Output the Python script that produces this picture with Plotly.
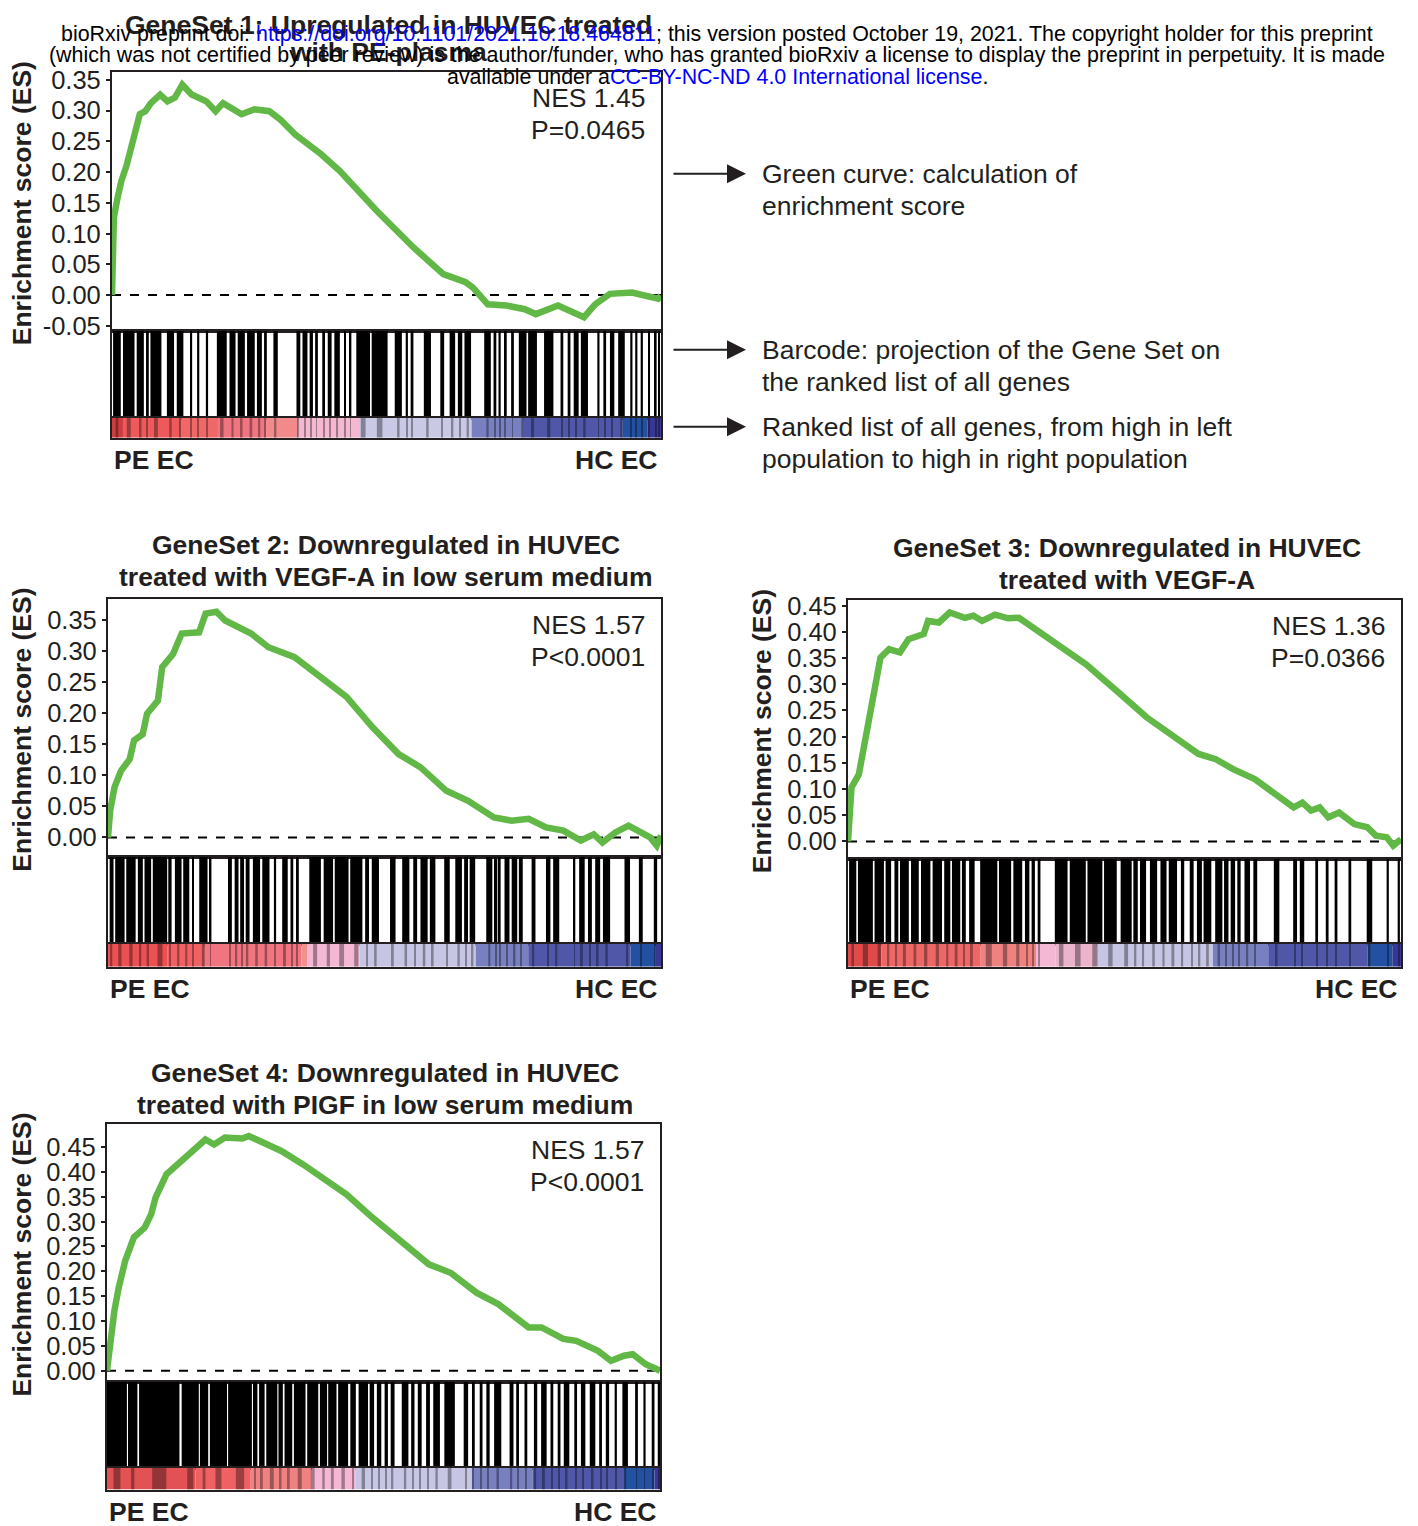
import plotly.graph_objects as go

W, H = 1418, 1526
FW, FH = 1418, 1526
X_OFF = 8           # horizontal page offset of the plot div
Y_OFF, Y_SCALE = 15.2, 0.989   # measured vertical placement of the figure in the snapshot
FONT = "Liberation Sans, Arial, sans-serif"
INK = "#231f20"
GREEN = "#62b846"

# ---------------- data ----------------
# Running enrichment score curves: x = position in ranked list (%), y = ES
gs1_x = [0, 0.13, 0.34, 1.01, 1.69, 2.70, 3.71, 4.38, 5.06, 6.07, 7.08, 8.77, 10.11, 11.46, 12.81,
         14.50, 17.19, 18.88, 20.23, 23.60, 25.96, 28.66, 30.68, 33.38, 38.10, 41.47, 48.21, 54.96,
         60.35, 64.40, 65.75, 68.44, 71.81, 75.19, 77.21, 81.25, 83.95, 85.97, 88.00, 90.69, 94.74,
         97.44, 99.46, 100]
gs1_es = [0, 0.056, 0.126, 0.158, 0.185, 0.212, 0.250, 0.266, 0.294, 0.299, 0.312, 0.326, 0.315,
          0.321, 0.342, 0.326, 0.315, 0.299, 0.312, 0.294, 0.302, 0.299, 0.285, 0.261, 0.229, 0.202,
          0.137, 0.077, 0.034, 0.021, 0.012, -0.015, -0.017, -0.023, -0.031, -0.017, -0.028, -0.036,
          -0.015, 0.002, 0.004, -0.001, -0.006, -0.001]

gs2_x = [0, 0.39, 1.18, 2.35, 3.92, 4.71, 6.27, 7.06, 9.02, 9.80, 11.76, 13.33, 16.47, 17.65, 19.61,
         21.18, 25.88, 29.02, 33.73, 38.43, 43.14, 47.84, 52.55, 56.47, 61.18, 65.10, 69.80, 72.94,
         76.08, 79.22, 82.35, 85.49, 87.84, 89.41, 91.76, 94.12, 96.47, 98.04, 99.22, 100]
gs2_es = [0, 0.043, 0.081, 0.107, 0.126, 0.156, 0.166, 0.199, 0.220, 0.274, 0.295, 0.328, 0.330,
          0.360, 0.363, 0.349, 0.328, 0.306, 0.290, 0.258, 0.226, 0.177, 0.134, 0.113, 0.075, 0.059,
          0.032, 0.027, 0.030, 0.016, 0.011, -0.005, 0.005, -0.008, 0.008, 0.019, 0.008, 0.000,
          -0.013, 0.003]

gs3_x = [0, 0.63, 1.96, 3.52, 4.69, 5.87, 7.43, 9.39, 10.95, 13.69, 14.48, 16.43, 18.39, 21.13,
         22.69, 24.26, 26.60, 28.95, 30.91, 34.43, 38.34, 43.04, 48.51, 53.99, 58.69, 63.38, 66.51,
         69.64, 73.55, 77.46, 80.59, 82.16, 83.72, 85.29, 86.85, 88.81, 91.55, 93.90, 95.46, 97.42,
         98.59, 100]
gs3_es = [0, 0.103, 0.128, 0.218, 0.294, 0.351, 0.367, 0.361, 0.386, 0.396, 0.421, 0.418, 0.437,
          0.427, 0.431, 0.421, 0.433, 0.426, 0.427, 0.402, 0.373, 0.338, 0.288, 0.237, 0.202, 0.167,
          0.157, 0.138, 0.119, 0.087, 0.065, 0.074, 0.059, 0.065, 0.046, 0.055, 0.033, 0.027, 0.011,
          0.008, -0.008, 0.004]

gs4_x = [0, 0.55, 1.33, 2.12, 3.29, 4.86, 6.82, 8.00, 8.78, 10.75, 13.49, 15.84, 17.80, 19.37,
         21.33, 24.47, 25.65, 27.61, 31.53, 35.45, 39.37, 43.29, 48.00, 52.71, 58.20, 62.12, 66.82,
         70.75, 76.24, 78.59, 82.51, 84.86, 88.78, 91.14, 93.49, 95.06, 97.41, 100]
gs4_es = [0, 0.054, 0.120, 0.167, 0.221, 0.268, 0.288, 0.315, 0.348, 0.395, 0.422, 0.442, 0.465,
          0.455, 0.469, 0.467, 0.472, 0.462, 0.442, 0.415, 0.385, 0.355, 0.308, 0.264, 0.214, 0.197,
          0.157, 0.134, 0.087, 0.087, 0.064, 0.060, 0.040, 0.020, 0.030, 0.033, 0.013, 0.000]

# Barcode: gene-set hits in the ranked list, as [start %, end %] runs
gs1_hits = [[0.2, 1.6], [2.0, 4.1], [4.5, 5.8], [6.2, 6.7], [7.0, 9.0], [10.0, 11.3], [11.8, 13.0],
            [14.3, 14.6], [15.5, 15.9], [17.1, 17.5], [19.1, 20.9], [21.4, 22.5], [22.9, 24.2],
            [24.6, 26.0], [26.4, 27.3], [27.7, 28.2], [29.4, 30.2], [33.6, 34.3], [34.7, 35.6],
            [36.0, 36.6], [37.0, 37.5], [38.3, 38.8], [39.3, 40.0], [40.5, 41.5], [42.3, 42.6],
            [43.3, 43.6], [44.5, 47.0], [47.3, 50.2], [51.5, 52.8], [53.5, 53.9], [54.4, 54.9],
            [56.8, 58.1], [59.8, 60.5], [61.5, 62.5], [63.0, 63.8], [64.2, 65.4], [67.8, 69.0],
            [69.5, 70.0], [70.4, 70.8], [71.4, 71.9], [72.7, 73.2], [74.1, 75.5], [75.8, 77.4],
            [78.7, 80.4], [81.7, 82.2], [83.0, 83.5], [84.1, 85.0], [85.4, 86.7], [88.4, 88.8],
            [89.5, 90.0], [90.7, 91.5], [92.2, 93.4], [94.4, 94.8], [95.3, 95.7], [96.3, 96.7],
            [97.7, 98.0], [98.9, 99.2], [99.5, 99.8]]
gs2_hits = [[0.3, 1.0], [1.3, 3.0], [3.3, 5.0], [5.4, 6.3], [6.6, 7.8], [8.1, 10.7], [10.9, 11.5],
            [12.1, 13.3], [13.6, 14.7], [15.2, 15.5], [16.5, 18.0], [18.4, 18.7], [21.7, 22.4],
            [22.9, 23.6], [23.9, 24.6], [24.9, 25.6], [26.2, 27.5], [27.9, 29.2], [30.0, 30.4],
            [31.5, 32.5], [33.0, 33.5], [34.0, 34.5], [36.4, 38.5], [39.0, 40.7], [41.0, 43.5],
            [43.8, 46.0], [46.5, 47.2], [47.7, 49.0], [51.0, 52.0], [53.2, 54.5], [55.2, 55.9],
            [56.5, 57.8], [58.2, 59.2], [60.8, 61.8], [62.8, 64.0], [64.4, 65.1], [65.4, 66.4],
            [68.4, 69.5], [69.8, 70.4], [70.7, 71.0], [71.7, 72.6], [73.0, 74.0], [74.3, 75.0],
            [76.6, 77.3], [79.2, 80.0], [80.5, 81.6], [84.2, 84.5], [85.2, 86.2], [86.8, 87.5],
            [88.1, 89.0], [89.5, 90.8], [93.4, 94.4], [96.0, 96.7], [98.7, 99.3]]
gs3_hits = [[0.2, 1.5], [1.8, 4.5], [4.8, 6.5], [6.8, 7.8], [8.4, 9.1], [9.4, 11.0], [11.4, 12.8],
            [13.2, 14.9], [15.3, 17.0], [17.4, 18.5], [18.8, 20.3], [20.6, 21.3], [21.9, 22.9],
            [23.9, 27.0], [27.3, 29.5], [29.9, 31.5], [32.0, 32.8], [33.2, 33.8], [34.3, 34.8],
            [37.4, 39.7], [40.1, 43.0], [43.3, 46.0], [46.3, 48.6], [49.3, 51.3], [51.6, 52.4],
            [52.8, 53.9], [54.6, 55.9], [56.5, 57.6], [58.0, 59.5], [60.2, 60.8], [61.8, 62.5],
            [63.1, 64.0], [64.3, 65.7], [66.4, 67.7], [68.0, 68.8], [69.2, 70.0], [70.4, 71.0],
            [71.7, 72.7], [73.3, 74.0], [77.0, 78.0], [80.5, 81.2], [81.7, 82.5], [84.5, 85.0],
            [86.4, 86.9], [88.0, 88.5], [90.5, 91.0], [93.8, 94.8], [97.4, 97.8], [99.4, 99.8]]
gs4_hits = [[0.0, 3.6], [3.8, 5.5], [5.8, 13.1], [13.5, 16.6], [16.8, 18.3], [18.6, 21.7],
            [21.9, 26.2], [26.4, 27.2], [27.5, 28.5], [28.8, 30.8], [31.0, 31.8], [32.1, 33.5],
            [33.8, 35.9], [36.2, 38.2], [38.5, 39.8], [40.0, 41.5], [41.8, 43.6], [44.0, 45.0],
            [45.5, 47.2], [47.5, 48.3], [48.8, 49.6], [50.2, 50.8], [51.3, 52.0], [53.3, 54.5],
            [55.0, 55.6], [56.2, 56.9], [57.7, 58.4], [59.0, 60.2], [61.0, 62.9], [64.5, 65.3],
            [66.0, 66.5], [67.4, 67.9], [68.6, 69.2], [70.0, 71.3], [72.8, 73.5], [74.0, 74.5],
            [75.5, 76.0], [77.2, 77.8], [78.5, 79.5], [80.2, 80.7], [81.5, 82.0], [82.6, 83.6],
            [84.5, 85.0], [85.7, 86.5], [87.3, 88.3], [89.0, 89.5], [90.2, 90.8], [91.8, 92.2],
            [93.2, 94.2], [95.5, 96.0], [97.0, 97.4], [98.5, 99.0], [99.6, 100.0]]

# Ranked-list colour ribbon: [start %, end %, colour]
gs1_ribbon = [[0, 2.0, "#cf3d3f"], [2.0, 12.6, "#ee5b5d"], [12.6, 19.3, "#f06869"],
              [19.3, 28.2, "#f07680"], [28.2, 33.9, "#f28b8c"], [33.9, 45.0, "#f4b8d2"],
              [45.0, 65.5, "#c9c8e5"], [65.5, 75.0, "#7880c0"], [75.0, 93.0, "#5058a8"],
              [93.0, 97.5, "#2450a0"], [97.5, 100, "#3a3896"]]
gs2_ribbon = [[0, 10.7, "#ec5153"], [10.7, 17.5, "#f06264"], [17.5, 35.0, "#f07580"],
              [35.0, 36.0, "#f28f90"], [36.0, 45.5, "#f4b8d4"], [45.5, 66.5, "#c6c5e3"],
              [66.5, 76.0, "#7880c0"], [76.0, 94.5, "#5058a8"], [94.5, 99.0, "#2450a0"],
              [99.0, 100, "#3a3896"]]
gs3_ribbon = [[0, 6.0, "#e04a4b"], [6.0, 24.0, "#ee6868"], [24.0, 34.0, "#f08282"],
              [34.0, 37.5, "#f4b8d4"], [37.5, 45.0, "#eab4cc"], [45.0, 66.0, "#c6c5e3"],
              [66.0, 76.0, "#7880c0"], [76.0, 94.0, "#5058a8"], [94.0, 98.5, "#2450a0"],
              [98.5, 100, "#3a3896"]]
gs4_ribbon = [[0, 16.0, "#e25253"], [16.0, 26.0, "#f06264"], [26.0, 37.0, "#f08283"],
              [37.0, 45.0, "#f4b8d4"], [45.0, 66.0, "#c6c5e3"], [66.0, 77.0, "#7880c0"],
              [77.0, 93.5, "#5058a8"], [93.5, 99.0, "#2450a0"], [99.0, 100, "#3a3896"]]

titles = ["GeneSet 1: Upregulated in HUVEC treated<br>with PE-plasma",
          "GeneSet 2: Downregulated in HUVEC<br>treated with VEGF-A in low serum medium",
          "GeneSet 3: Downregulated in HUVEC<br>treated with VEGF-A",
          "GeneSet 4: Downregulated in HUVEC<br>treated with PIGF in low serum medium"]
nes_labels = ["NES 1.45", "NES 1.57", "NES 1.36", "NES 1.57"]
p_labels = ["P=0.0465", "P<0.0001", "P=0.0366", "P<0.0001"]
left_group, right_group = "PE EC", "HC EC"
y_title = "Enrichment score (ES)"

notes = [["Green curve: calculation of", "enrichment score"],
         ["Barcode: projection of the Gene Set on", "the ranked list of all genes"],
         ["Ranked list of all genes, from high in left", "population to high in right population"]]

# ---------------- layout geometry (target picture pixels) ----------------
panels = [
    dict(x=gs1_x, es=gs1_es, hits=gs1_hits, rib=gs1_ribbon, x0=112, x1=661, top=71, m1=330, m2=417,
         bot=437, yr=[-0.058, 0.363], ytick_min=-0.05, ytick_max=0.35, ttl_y=(24, 51), ylab_x=22),
    dict(x=gs2_x, es=gs2_es, hits=gs2_hits, rib=gs2_ribbon, x0=108, x1=661, top=598, m1=856, m2=943,
         bot=966, yr=[-0.031, 0.384], ytick_min=0.0, ytick_max=0.35, ttl_y=(544, 576), ylab_x=22),
    dict(x=gs3_x, es=gs3_es, hits=gs3_hits, rib=gs3_ribbon, x0=848, x1=1401, top=599, m1=858, m2=943,
         bot=966, yr=[-0.033, 0.4615], ytick_min=0.0, ytick_max=0.45, ttl_y=(547, 579), ylab_x=762),
    dict(x=gs4_x, es=gs4_es, hits=gs4_hits, rib=gs4_ribbon, x0=107, x1=660, top=1123, m1=1381, m2=1467,
         bot=1489, yr=[-0.022, 0.497], ytick_min=0.0, ytick_max=0.45, ttl_y=(1072, 1104), ylab_x=22),
]


def px(x):
    return (x - X_OFF) / FW


def py(y):
    return 1 - ((y - Y_OFF) / Y_SCALE) / FH


fig = go.Figure()
layout = {}
annotations = []


def ax_name(kind, n):
    return kind if n == 1 else f"{kind}{n}"


for i, p in enumerate(panels):
    ia, ib, ic = 3 * i + 1, 3 * i + 2, 3 * i + 3
    xd = [px(p["x0"]), px(p["x1"])]
    frame = dict(showline=True, mirror=True, linecolor=INK, linewidth=2.2, showgrid=False,
                 zeroline=False, fixedrange=True)

    layout[ax_name("xaxis", ia)] = dict(domain=xd, range=[0, 100], showticklabels=False, ticks="",
                                        anchor=f"y{ia}", **frame)
    tickvals = []
    v = p["ytick_min"]
    while v <= p["ytick_max"] + 1e-9:
        tickvals.append(round(v, 2))
        v += 0.05
    layout[ax_name("yaxis", ia)] = dict(domain=[py(p["m1"]), py(p["top"])], range=p["yr"],
                                        anchor=f"x{ia}", tickvals=tickvals,
                                        ticktext=[f"{t:.2f}" for t in tickvals],
                                        ticks="outside", ticklen=4, tickwidth=1.5, tickcolor=INK,
                                        tickfont=dict(size=25.5, family=FONT, color=INK), **frame)
    layout[ax_name("xaxis", ib)] = dict(domain=xd, range=[0, 100], showticklabels=False, ticks="",
                                        anchor=f"y{ib}", **frame)
    layout[ax_name("yaxis", ib)] = dict(domain=[py(p["m2"]), py(p["m1"])], range=[0, 1],
                                        showticklabels=False, ticks="", anchor=f"x{ib}", **frame)
    layout[ax_name("xaxis", ic)] = dict(domain=xd, range=[0, 100], showticklabels=False, ticks="",
                                        anchor=f"y{ic}", **frame)
    layout[ax_name("yaxis", ic)] = dict(domain=[py(p["bot"]), py(p["m2"])], range=[0, 1],
                                        showticklabels=False, ticks="", anchor=f"x{ic}", **frame)

    fig.add_trace(go.Scatter(x=[0, 100], y=[0, 0], mode="lines", xaxis=f"x{ia}", yaxis=f"y{ia}",
                             line=dict(color="black", width=2, dash="dash"), hoverinfo="skip"))
    fig.add_trace(go.Scatter(x=p["x"], y=p["es"], mode="lines", xaxis=f"x{ia}", yaxis=f"y{ia}",
                             line=dict(color=GREEN, width=6.5), hoverinfo="skip"))
    hx = [(a + b) / 2 for a, b in p["hits"]]
    hw = [b - a for a, b in p["hits"]]
    fig.add_trace(go.Bar(x=hx, y=[1] * len(hx), width=hw, base=0, xaxis=f"x{ib}", yaxis=f"y{ib}",
                         marker=dict(color="black", line=dict(width=0)), hoverinfo="skip"))
    rx = [(a + b) / 2 for a, b, c in p["rib"]]
    rw = [b - a for a, b, c in p["rib"]]
    rc = [c for a, b, c in p["rib"]]
    fig.add_trace(go.Bar(x=rx, y=[1] * len(rx), width=rw, base=0, xaxis=f"x{ic}", yaxis=f"y{ic}",
                         marker=dict(color=rc, line=dict(width=0)), hoverinfo="skip"))
    fig.add_trace(go.Bar(x=hx, y=[1] * len(hx), width=[max(0.15, w * 0.35) for w in hw], base=0,
                         xaxis=f"x{ic}", yaxis=f"y{ic}", opacity=0.35,
                         marker=dict(color="black", line=dict(width=0)), hoverinfo="skip"))

    cx = (p["x0"] + p["x1"]) / 2 + 2
    t1, t2 = titles[i].split("<br>")
    for txt, yy in zip((t1, t2), p["ttl_y"]):
        annotations.append(dict(text=f"<b>{txt}</b>", x=px(cx), y=py(yy), xanchor="center",
                                yanchor="middle", font=dict(size=26.5, family=FONT, color=INK)))
    annotations.append(dict(text=nes_labels[i], x=px(p["x1"] - 14), y=py(p["top"] + 26),
                            xanchor="right", yanchor="middle",
                            font=dict(size=26.5, family=FONT, color=INK)))
    annotations.append(dict(text=p_labels[i], x=px(p["x1"] - 14), y=py(p["top"] + 58),
                            xanchor="right", yanchor="middle",
                            font=dict(size=26.5, family=FONT, color=INK)))
    annotations.append(dict(text=f"<b>{left_group}</b>", x=px(p["x0"]), y=py(p["bot"] + 22),
                            xanchor="left", yanchor="middle",
                            font=dict(size=26.5, family=FONT, color=INK)))
    annotations.append(dict(text=f"<b>{right_group}</b>", x=px(p["x1"] - 2), y=py(p["bot"] + 22),
                            xanchor="right", yanchor="middle",
                            font=dict(size=26.5, family=FONT, color=INK)))
    annotations.append(dict(text=f"<b>{y_title}</b>", x=px(p["ylab_x"]),
                            y=py((p["top"] + p["m1"]) / 2 + 2), xanchor="center", yanchor="middle",
                            textangle=-90, font=dict(size=26.5, family=FONT, color=INK)))

# explanatory arrows and notes for panel 1
for (l1, l2), ya in zip(notes, (173, 349, 426)):
    annotations.append(dict(text="", x=px(746), y=py(ya), ax=-74, ay=0, showarrow=True,
                            arrowhead=2, arrowsize=1.9, arrowwidth=2, arrowcolor=INK))
    annotations.append(dict(text=l1, x=px(760), y=py(ya), xanchor="left", yanchor="middle",
                            font=dict(size=26.5, family=FONT, color=INK)))
    annotations.append(dict(text=l2, x=px(760), y=py(ya + 32), xanchor="left", yanchor="middle",
                            font=dict(size=26.5, family=FONT, color=INK)))

# bioRxiv header
BLUE = "#0000ff"
header = [
    ("bioRxiv preprint doi: <span style='color:%s'>https://doi.org/10.1101/2021.10.18.464811</span>; "
     "this version posted October 19, 2021. The copyright holder for this preprint" % BLUE, 33),
    ("(which was not certified by peer review) is the author/funder, who has granted bioRxiv a "
     "license to display the preprint in perpetuity. It is made", 54),
    ("available under a<span style='color:%s'>CC-BY-NC-ND 4.0 International license</span>." % BLUE, 76),
]
for txt, yy in header:
    annotations.append(dict(text=txt, x=px(717), y=py(yy), xanchor="center", yanchor="middle",
                            font=dict(size=21.4, family=FONT, color="black")))

for a in annotations:
    a.setdefault("showarrow", False)
    a["xref"] = "paper"
    a["yref"] = "paper"

fig.update_layout(width=FW, height=FH, margin=dict(l=0, r=0, t=0, b=0), paper_bgcolor="white",
                  plot_bgcolor="white", showlegend=False, barmode="overlay",
                  annotations=annotations, **layout)
fig.write_html("out.html")
